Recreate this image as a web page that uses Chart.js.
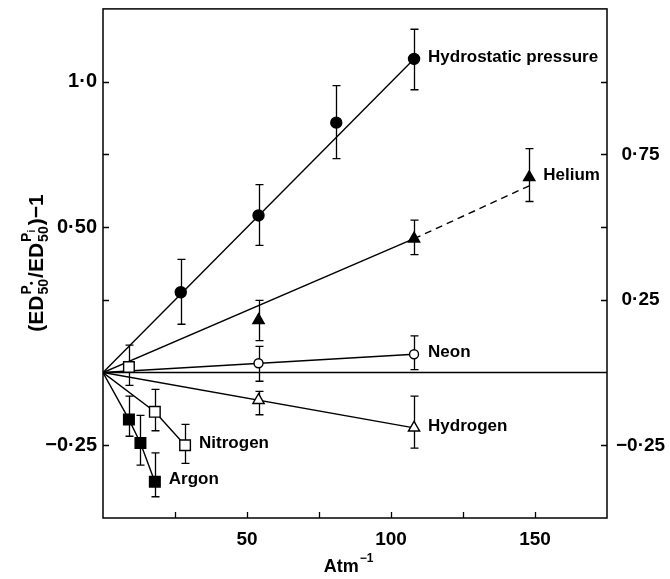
<!DOCTYPE html>
<html><head><meta charset="utf-8">
<script src="https://cdn.jsdelivr.net/npm/chart.js@4.4.1/dist/chart.umd.min.js"></script>
<style>html,body{margin:0;padding:0;background:#fff}#wrap{width:670px;height:579px}</style>
</head><body><div id="wrap"><canvas id="c" width="670" height="579"></canvas></div>
<script>
// ---- axis tick labels ----
const xLabelValues = [50, 100, 150];
const leftLabelValues = [1.0, 0.5, -0.25];
const leftLabelTexts = ['1·0', '0·50', '−0·25'];
const rightLabelValues = [0.75, 0.25, -0.25];
const rightLabelTexts = ['0·75', '0·25', '−0·25'];

// ---- series (Atm^-1, relative change) ----
const hydroX  = [27, 54, 81, 108];
const hydroY  = [0.276, 0.54, 0.859, 1.078];
const hydroLo = [0.166, 0.437, 0.735, 0.972];
const hydroHi = [0.389, 0.646, 0.986, 1.18];

const heliumX  = [54, 108, 148];
const heliumY  = [0.18, 0.46, 0.671];
const heliumLo = [0.11, 0.405, 0.588];
const heliumHi = [0.248, 0.524, 0.77];

const neonX  = [54, 108];
const neonY  = [0.032, 0.063];
const neonLo = [-0.03, 0.01];
const neonHi = [0.09, 0.126];

const hydrogenX  = [54, 108];
const hydrogenY  = [-0.095, -0.19];
const hydrogenLo = [-0.145, -0.26];
const hydrogenHi = [-0.065, -0.081];

const nitrogenX  = [9, 18, 28.5];
const nitrogenY  = [0.019, -0.135, -0.25];
const nitrogenLo = [-0.044, -0.2, -0.312];
const nitrogenHi = [0.094, -0.058, -0.178];

const argonX  = [9, 13, 18];
const argonY  = [-0.161, -0.242, -0.375];
const argonLo = [-0.219, -0.318, -0.427];
const argonHi = [-0.081, -0.147, -0.276];

// ---- drawn lines ----
const hydroLineX = [0, 108],  hydroLineY = [0, 1.078];
const heliumLineX = [0, 108], heliumLineY = [0, 0.46];
const heliumDashX = [108, 148], heliumDashY = [0.46, 0.642];
const neonLineX = [0, 108], neonLineY = [0, 0.063];
const hydrogenLineX = [0, 108], hydrogenLineY = [0, -0.19];
const nitrogenLineX = [0, 18, 28.5], nitrogenLineY = [0, -0.135, -0.25];
const argonLineX = [0, 9, 13, 18], argonLineY = [0, -0.161, -0.242, -0.375];
const zeroLineX = [0, 175], zeroLineY = [0, 0];

const seriesNames = ['Hydrostatic pressure', 'Helium', 'Neon', 'Hydrogen', 'Nitrogen', 'Argon'];

const FONT = '"Liberation Sans", Arial, sans-serif';
const zip = (xs, ys) => xs.map((x, i) => ({x, y: ys[i]}));

function lineDs(xs, ys, dash) {
  return {data: zip(xs, ys), showLine: true, pointRadius: 0, borderColor: '#000',
          borderWidth: 1.4, borderDash: dash || [], fill: false, tension: 0, order: 2};
}
function ptsDs(name, xs, ys, lo, hi, style, filled, r) {
  return {label: name, data: zip(xs, ys), showLine: false, pointStyle: style,
          pointRadius: r, pointBackgroundColor: filled ? '#000' : '#fff',
          pointBorderColor: '#000', pointBorderWidth: 1.4, errLo: lo, errHi: hi, order: 1};
}

const datasets = [
  lineDs(zeroLineX, zeroLineY),
  lineDs(hydroLineX, hydroLineY),
  lineDs(heliumLineX, heliumLineY),
  lineDs(heliumDashX, heliumDashY, [7, 5]),
  lineDs(neonLineX, neonLineY),
  lineDs(hydrogenLineX, hydrogenLineY),
  lineDs(nitrogenLineX, nitrogenLineY),
  lineDs(argonLineX, argonLineY),
  ptsDs(seriesNames[0], hydroX, hydroY, hydroLo, hydroHi, 'circle', true, 5.5),
  ptsDs(seriesNames[1], heliumX, heliumY, heliumLo, heliumHi, 'triangle', true, 6.5),
  ptsDs(seriesNames[2], neonX, neonY, neonLo, neonHi, 'circle', false, 4.5),
  ptsDs(seriesNames[3], hydrogenX, hydrogenY, hydrogenLo, hydrogenHi, 'triangle', false, 6.5),
  ptsDs(seriesNames[4], nitrogenX, nitrogenY, nitrogenLo, nitrogenHi, 'rect', false, 7.5),
  ptsDs(seriesNames[5], argonX, argonY, argonLo, argonHi, 'rect', true, 7.5),
];

const errorBars = {
  id: 'errorBars',
  beforeDatasetsDraw(chart) {
    const ctx = chart.ctx, ys = chart.scales.y;
    ctx.save();
    ctx.strokeStyle = '#000'; ctx.lineWidth = 1.3;
    chart.data.datasets.forEach((ds, i) => {
      if (!ds.errLo) return;
      const meta = chart.getDatasetMeta(i);
      meta.data.forEach((pt, j) => {
        const x = Math.round(pt.x) + 0.5;
        const y1 = ys.getPixelForValue(ds.errLo[j]);
        const y2 = ys.getPixelForValue(ds.errHi[j]);
        ctx.beginPath();
        ctx.moveTo(x, y1); ctx.lineTo(x, y2);
        ctx.moveTo(x - 4, y1); ctx.lineTo(x + 4, y1);
        ctx.moveTo(x - 4, y2); ctx.lineTo(x + 4, y2);
        ctx.stroke();
      });
    });
    ctx.restore();
  }
};

const frameAndTicks = {
  id: 'frameAndTicks',
  afterDraw(chart) {
    const ctx = chart.ctx, a = chart.chartArea;
    const xs = chart.scales.x, ys = chart.scales.y;
    ctx.save();
    ctx.strokeStyle = '#000'; ctx.lineWidth = 1.5;
    ctx.strokeRect(a.left, a.top, a.right - a.left, a.bottom - a.top);
    ctx.lineWidth = 1.3;
    ctx.beginPath();
    xs.ticks.forEach(t => {
      if (t.value <= xs.min || t.value >= xs.max) return;
      const x = Math.round(xs.getPixelForValue(t.value)) + 0.5;
      ctx.moveTo(x, a.bottom); ctx.lineTo(x, a.bottom - 6);
    });
    ys.ticks.forEach(t => {
      if (t.value <= ys.min || t.value >= ys.max || t.value === 0) return;
      const y = Math.round(ys.getPixelForValue(t.value)) + 0.5;
      ctx.moveTo(a.left, y); ctx.lineTo(a.left + 6, y);
      ctx.moveTo(a.right, y); ctx.lineTo(a.right - 6, y);
    });
    ctx.stroke();

    // series labels next to last point
    ctx.fillStyle = '#000';
    ctx.font = 'bold 17px ' + FONT;
    ctx.textAlign = 'left'; ctx.textBaseline = 'middle';
    chart.data.datasets.forEach((ds, i) => {
      if (!ds.label) return;
      const meta = chart.getDatasetMeta(i);
      const p = meta.data[meta.data.length - 1];
      ctx.fillText(ds.label, p.x + 14, p.y - 2);
    });

    // y-axis title (rotated, with sub/superscripts)
    const cx = 35, cy = 263;
    const big = 'bold 21px ' + FONT, sm = 'bold 14px ' + FONT, tiny = 'bold 10px ' + FONT;
    ctx.translate(cx, cy); ctx.rotate(-Math.PI / 2);
    ctx.textBaseline = 'alphabetic';
    const w = (f, s) => { ctx.font = f; return ctx.measureText(s).width; };
    const stackW = (sub) => Math.max(w(sm, 'P') + w(tiny, sub) + 1, w(sm, '50'));
    const total = w(big, '(ED') + stackW('•') + 2 + w(big, '/ED') + stackW('i') + 2 + w(big, ')−1');
    let x = -total / 2;
    const base = 8;
    const drawStack = (sub) => {
      ctx.font = sm; ctx.fillText('P', x + 1, base - 12);
      const pw = w(sm, 'P');
      ctx.font = tiny; ctx.fillText(sub, x + 1 + pw, base - 8);
      ctx.font = sm; ctx.fillText('50', x + 1, base + 5);
      x += stackW(sub) + 2;
    };
    ctx.font = big; ctx.fillText('(ED', x, base); x += w(big, '(ED');
    drawStack('•');
    ctx.font = big; ctx.fillText('/ED', x, base); x += w(big, '/ED');
    drawStack('i');
    ctx.font = big; ctx.fillText(')−1', x, base);
    ctx.setTransform(1, 0, 0, 1, 0, 0);

    // x-axis title Atm^-1
    const tx = 348, ty = 566;
    const mid = 'bold 18px ' + FONT, sm2 = 'bold 12px ' + FONT;
    const wa = w(mid, 'Atm'), ws = w(sm2, '−1');
    ctx.textAlign = 'left'; ctx.textBaseline = 'alphabetic';
    ctx.font = mid; ctx.fillText('Atm', tx - (wa + ws) / 2, ty + 6);
    ctx.font = sm2; ctx.fillText('−1', tx - (wa + ws) / 2 + wa + 1, ty - 4);
    ctx.restore();
  }
};

const tickFont = {family: FONT, size: 20, weight: 'bold'};
const noPadY = s => { s.paddingTop = 0; s.paddingBottom = 0; };

new Chart(document.getElementById('c'), {
  type: 'scatter',
  data: {datasets},
  options: {
    responsive: false, animation: false, events: [],
    layout: {padding: {top: 8, left: 0, right: 0, bottom: 0}},
    plugins: {legend: {display: false}, tooltip: {enabled: false}},
    scales: {
      x: {
        type: 'linear', min: 0, max: 175,
        grid: {display: false, drawTicks: false}, border: {display: false},
        afterFit: s => { s.height = 61; s.paddingLeft = 0; s.paddingRight = 0; },
        ticks: {stepSize: 25, autoSkip: false, color: '#000', font: {family: FONT, size: 19, weight: 'bold'}, padding: 10,
                maxRotation: 0,
                callback: v => xLabelValues.includes(v) ? String(v) : ''}
      },
      y: {
        type: 'linear', position: 'left', min: -0.5, max: 1.25,
        grid: {display: false, drawTicks: false}, border: {display: false},
        afterFit: s => { s.width = 103; noPadY(s); },
        ticks: {stepSize: 0.25, autoSkip: false, color: '#000', font: tickFont, padding: 6,
                callback: v => { const i = leftLabelValues.findIndex(q => Math.abs(q - v) < 1e-9); return i >= 0 ? leftLabelTexts[i] : ''; }}
      },
      y2: {
        type: 'linear', position: 'right', min: -0.5, max: 1.25,
        grid: {display: false, drawTicks: false}, border: {display: false},
        afterFit: s => { s.width = 63; noPadY(s); },
        ticks: {stepSize: 0.25, autoSkip: false, color: '#000', font: {family: FONT, size: 19, weight: 'bold'}, padding: 9,
                crossAlign: 'center',
                callback: v => { const i = rightLabelValues.findIndex(q => Math.abs(q - v) < 1e-9); return i >= 0 ? rightLabelTexts[i] : ''; }}
      }
    }
  },
  plugins: [errorBars, frameAndTicks]
});
</script>
</body></html>
